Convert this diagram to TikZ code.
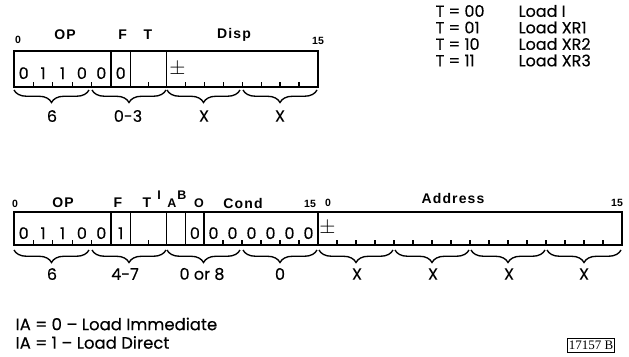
\documentclass[tikz,border=0pt]{standalone}
\usepackage{fontspec}
\setmainfont{Poppins}[FakeBold=0.3]
\newfontfamily\hdrfont{Liberation Sans}
\newfontfamily\serffont{Liberation Serif}
\usetikzlibrary{decorations.pathreplacing}
\begin{document}
\begin{tikzpicture}[x=1pt,y=-1pt,line width=1.35pt,
  digit/.style={font=\fontsize{16}{16}\selectfont,inner sep=0pt,anchor=base},
  hdrlbl/.style={font=\hdrfont\bfseries\fontsize{14}{14}\selectfont\addfontfeature{LetterSpace=8},inner sep=0pt},
  bitnum/.style={font=\hdrfont\bfseries\fontsize{10.5}{10.5}\selectfont,inner sep=0pt},
  sublbl/.style={font=\hdrfont\bfseries\fontsize{12.5}{12.5}\selectfont,inner sep=0pt},
  brlbl/.style={font=\fontsize{16}{16}\selectfont,inner sep=0pt},
  legend/.style={font=\fontsize{16}{16}\selectfont,inner sep=0pt,anchor=west},
  note/.style={font=\fontsize{16.5}{16.5}\selectfont,inner sep=0pt,anchor=west},
  brc/.style={decorate,decoration={brace,mirror,amplitude=12.5pt},line width=1.35pt},
  sgn/.style={font=\fontsize{21}{21}\selectfont,inner sep=0pt}]
\useasboundingbox (0,0) rectangle (629,356);

% ---------- top word ----------
\draw (14,51) rectangle (318,87);
\foreach \x in {111,130.5,166.5} \draw (\x,51) -- (\x,87);
\foreach \x in {33.4,52.8,72.2,91.6,148.5,185.4,204.4,223.3,242.3,261.2,280.1,299.1}
  \draw (\x,87) -- (\x,81.5);
\node[digit] (t0) at (23.7,79) {0};
\node[digit] (t1) at (43.1,79) {1};
\node[digit] (t2) at (62.5,79) {1};
\node[digit] (t3) at (81.9,79) {0};
\node[digit] (t4) at (101.3,79) {0};
\node[digit] (t5) at (120.7,79) {0};
\node[sgn] (tpm) at (177.5,69) {$\pm$};
\node[bitnum] (tb0) at (18,40) {0};
\node[hdrlbl] (top) at (65,35) {OP};
\node[hdrlbl] (tf) at (122.7,35) {F};
\node[hdrlbl] (tt) at (148,35) {T};
\node[hdrlbl] (tdisp) at (234,35) {Disp};
\node[bitnum] (tb15) at (318,41) {15};
\draw[brc] (14,90) -- (89,90);
\draw[brc] (92,90) -- (166,90);
\draw[brc] (167,90) -- (240,90);
\draw[brc] (243,90) -- (317,90);
\node[brlbl] (tl1) at (52,116) {6};
\node[brlbl] (tl2) at (128,116) {0-3};
\node[brlbl] (tl3) at (204,116) {X};
\node[brlbl] (tl4) at (280,116) {X};

% ---------- legend ----------
\node[legend] (lg1a) at (435,11) {T = 00};
\node[legend] (lg1b) at (518,11) {Load I};
\node[legend] (lg2a) at (435,27.5) {T = 01};
\node[legend] (lg2b) at (518,27.5) {Load XR1};
\node[legend] (lg3a) at (435,44) {T = 10};
\node[legend] (lg3b) at (518,44) {Load XR2};
\node[legend] (lg4a) at (435,60.5) {T = 11};
\node[legend] (lg4b) at (518,60.5) {Load XR3};

% ---------- bottom word ----------
\draw (14,212) rectangle (622,245);
\foreach \x in {111,130.5,166.5,185.7,204,318} \draw (\x,212) -- (\x,245);
\foreach \x in {33.4,52.8,72.2,91.6,148.5,223,242,261,280,299}
  \draw (\x,245) -- (\x,239.5);
\foreach \k in {1,...,15} \draw ({318+19*\k},245) -- ({318+19*\k},239.5);
\node[digit] (b0) at (23.7,239) {0};
\node[digit] (b1) at (43.1,239) {1};
\node[digit] (b2) at (62.5,239) {1};
\node[digit] (b3) at (81.9,239) {0};
\node[digit] (b4) at (101.3,239) {0};
\node[digit] (b5) at (120.7,239) {1};
\node[digit] (b9) at (194.9,239) {0};
\foreach \k in {0,...,5} \node[digit] (c\k) at ({213.5+19*\k},239) {0};
\node[sgn] (bpm) at (327.5,228) {$\pm$};
\node[bitnum] (bb0) at (15,204) {0};
\node[hdrlbl] (bop) at (63,203) {OP};
\node[hdrlbl] (bf) at (118,203) {F};
\node[hdrlbl] (bt) at (147,203) {T};
\node[sublbl] (bi) at (159,195) {I};
\node[sublbl] (ba) at (172,203.5) {A};
\node[sublbl] (bb) at (182,195) {B};
\node[sublbl] (bo) at (199,203.5) {O};
\node[hdrlbl] (bcond) at (243,203) {Cond};
\node[bitnum] (bb15) at (310,203.5) {15};
\node[bitnum] (ab0) at (328,203) {0};
\node[hdrlbl] (baddr) at (453,198) {Address};
\node[bitnum] (ab15) at (617,202.5) {15};
\draw[brc] (14,250) -- (89,250);
\draw[brc] (92,250) -- (166,250);
\draw[brc] (167,250) -- (240,250);
\draw[brc] (243,250) -- (317,250);
\draw[brc] (319,250) -- (393,250);
\draw[brc] (395,250) -- (469,250);
\draw[brc] (471,250) -- (545,250);
\draw[brc] (547,250) -- (621,250);
\node[brlbl] (bl1) at (52,274) {6};
\node[brlbl] (bl2) at (125,274) {4-7};
\node[brlbl] (bl3) at (202,274) {0 or 8};
\node[brlbl] (bl4) at (280,274) {0};
\node[brlbl] (bl5) at (357,274) {X};
\node[brlbl] (bl6) at (433,274) {X};
\node[brlbl] (bl7) at (509,274) {X};
\node[brlbl] (bl8) at (584,274) {X};

% ---------- notes ----------
\node[note] (n1) at (15,324) {IA = 0 – Load Immediate};
\node[note] (n2) at (15,342.5) {IA = 1 – Load Direct};
\node[draw,line width=1pt,font=\serffont\fontsize{13}{13}\selectfont,inner sep=1.2pt,minimum width=44pt,minimum height=14pt] (id) at (591,345) {17157 B};
\end{tikzpicture}
\end{document}
